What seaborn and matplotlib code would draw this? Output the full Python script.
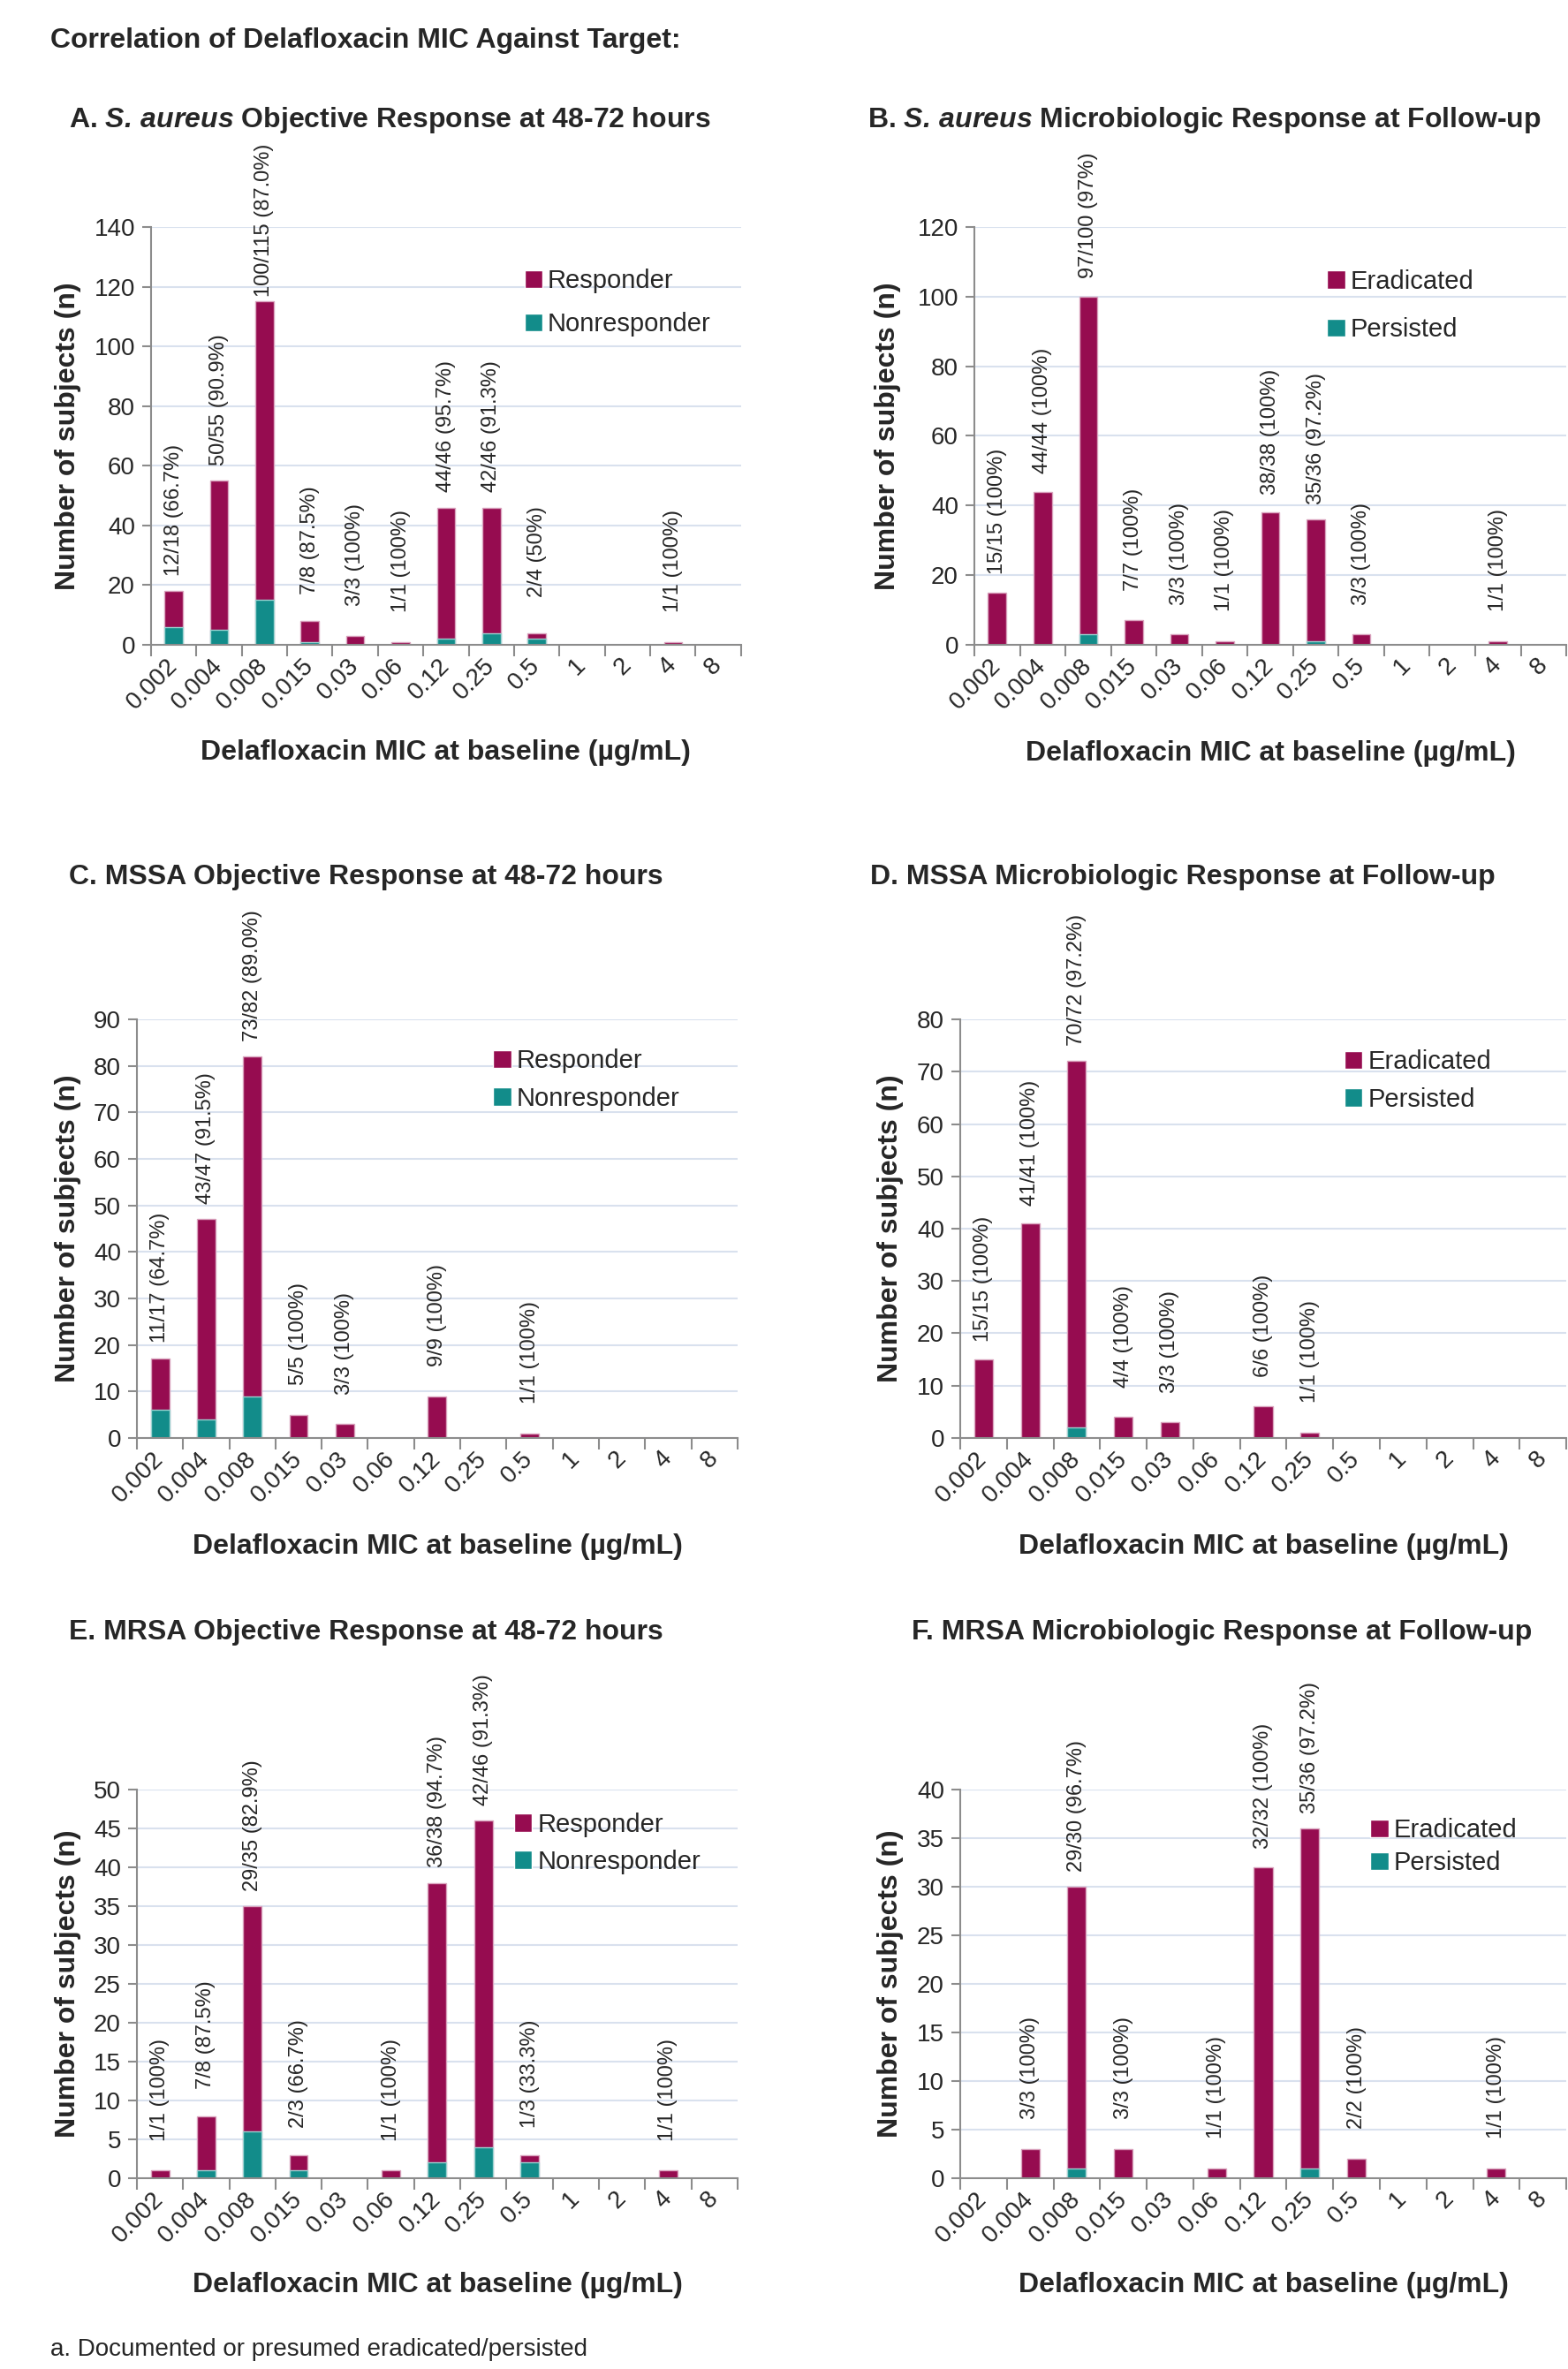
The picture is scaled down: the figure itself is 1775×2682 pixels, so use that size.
# ============================================
# Delafloxacin MIC vs response - 6 panel figure
# ============================================

import numpy as np
import pandas as pd
import matplotlib
matplotlib.use("Agg")
import matplotlib.pyplot as plt
from matplotlib.patches import Patch
import seaborn as sns

# ============================================
# Data
# ============================================

mic = ["0.002", "0.004", "0.008", "0.015", "0.03", "0.06", "0.12",
       "0.25", "0.5", "1", "2", "4", "8"]

# A. S. aureus objective response
a_resp = [12, 50, 100, 7, 3, 1, 44, 42, 2, 0, 0, 1, 0]
a_non = [6, 5, 15, 1, 0, 0, 2, 4, 2, 0, 0, 0, 0]
a_labels = ["12/18 (66.7%)", "50/55 (90.9%)", "100/115 (87.0%)", "7/8 (87.5%)",
            "3/3 (100%)", "1/1 (100%)", "44/46 (95.7%)", "42/46 (91.3%)",
            "2/4 (50%)", "", "", "1/1 (100%)", ""]

# B. S. aureus microbiologic response
b_erad = [15, 44, 97, 7, 3, 1, 38, 35, 3, 0, 0, 1, 0]
b_pers = [0, 0, 3, 0, 0, 0, 0, 1, 0, 0, 0, 0, 0]
b_labels = ["15/15 (100%)", "44/44 (100%)", "97/100 (97%)", "7/7 (100%)",
            "3/3 (100%)", "1/1 (100%)", "38/38 (100%)", "35/36 (97.2%)",
            "3/3 (100%)", "", "", "1/1 (100%)", ""]

# C. MSSA objective response
c_resp = [11, 43, 73, 5, 3, 0, 9, 0, 1, 0, 0, 0, 0]
c_non = [6, 4, 9, 0, 0, 0, 0, 0, 0, 0, 0, 0, 0]
c_labels = ["11/17 (64.7%)", "43/47 (91.5%)", "73/82 (89.0%)", "5/5 (100%)",
            "3/3 (100%)", "", "9/9 (100%)", "", "1/1 (100%)", "", "", "", ""]

# D. MSSA microbiologic response
d_erad = [15, 41, 70, 4, 3, 0, 6, 1, 0, 0, 0, 0, 0]
d_pers = [0, 0, 2, 0, 0, 0, 0, 0, 0, 0, 0, 0, 0]
d_labels = ["15/15 (100%)", "41/41 (100%)", "70/72 (97.2%)", "4/4 (100%)",
            "3/3 (100%)", "", "6/6 (100%)", "1/1 (100%)", "", "", "", "", ""]

# E. MRSA objective response
e_resp = [1, 7, 29, 2, 0, 1, 36, 42, 1, 0, 0, 1, 0]
e_non = [0, 1, 6, 1, 0, 0, 2, 4, 2, 0, 0, 0, 0]
e_labels = ["1/1 (100%)", "7/8 (87.5%)", "29/35 (82.9%)", "2/3 (66.7%)", "",
            "1/1 (100%)", "36/38 (94.7%)", "42/46 (91.3%)", "1/3 (33.3%)",
            "", "", "1/1 (100%)", ""]

# F. MRSA microbiologic response
f_erad = [0, 3, 29, 3, 0, 1, 32, 35, 2, 0, 0, 1, 0]
f_pers = [0, 0, 1, 0, 0, 0, 0, 1, 0, 0, 0, 0, 0]
f_labels = ["", "3/3 (100%)", "29/30 (96.7%)", "3/3 (100%)", "", "1/1 (100%)",
            "32/32 (100%)", "35/36 (97.2%)", "2/2 (100%)", "", "", "1/1 (100%)", ""]

# ============================================
# Style
# ============================================

sns.set_theme(style="white")
plt.rcParams["font.family"] = ["Liberation Sans", "DejaVu Sans"]
plt.rcParams["mathtext.fontset"] = "custom"
plt.rcParams["mathtext.rm"] = "Liberation Sans"
plt.rcParams["mathtext.bf"] = "Liberation Sans:bold"
plt.rcParams["mathtext.it"] = "Liberation Sans:italic"
plt.rcParams["mathtext.bfit"] = "Liberation Sans:italic:bold"

MAGENTA = "#960C50"
TEAL = "#128C8A"
GRID = "#D9E1EE"
AXIS = "#8C8C8C"
XLABEL = "Delafloxacin MIC at baseline (\u00b5g/mL)"
YLABEL = "Number of subjects (n)"

fig = plt.figure(figsize=(17.75, 26.82), dpi=100)


def draw_panel(rect, top, bottom, labels, names, ymax, ystep,
               leg_pos, leg_space, xlab_y, ylab_x):
    ax = fig.add_axes(rect)
    total = [t + b for t, b in zip(top, bottom)]
    df = pd.DataFrame({"mic": mic, "total": total, "bottom": bottom})

    # full bar in magenta, then the lower segment in teal on top of it
    sns.barplot(data=df, x="mic", y="total", order=mic, color=MAGENTA,
                saturation=1, width=0.4, edgecolor="#D9A3BD", linewidth=1,
                ax=ax)
    sns.barplot(data=df, x="mic", y="bottom", order=mic, color=TEAL,
                saturation=1, width=0.4, edgecolor="#9AD3D0", linewidth=1,
                ax=ax)

    for i, lab in enumerate(labels):
        if lab:
            ax.annotate(lab, (i, total[i]), xytext=(0, 66),
                        textcoords="offset points", rotation=90,
                        ha="center", va="center", fontsize=17)

    ax.set_ylim(0, ymax)
    ax.set_xlim(-0.5, len(mic) - 0.5)
    ax.set_yticks(np.arange(0, ymax + 0.1, ystep))
    ax.tick_params(axis="y", labelsize=20, length=7, width=1.5,
                   color=AXIS, left=True, pad=6)

    # category boundaries as ticks, labels centred on categories
    ax.set_xticks(np.arange(-0.5, len(mic), 1))
    ax.set_xticklabels([])
    ax.set_xticks(range(len(mic)), minor=True)
    ax.set_xticklabels(mic, minor=True, rotation=45, ha="right",
                       va="center", rotation_mode="anchor", fontsize=20)
    ax.tick_params(axis="x", which="major", length=9, width=1.5,
                   color=AXIS, bottom=True)
    ax.tick_params(axis="x", which="minor", length=0, pad=14)

    ax.yaxis.grid(True, color=GRID, linewidth=1.5)
    ax.set_axisbelow(True)
    for s in ["top", "right"]:
        ax.spines[s].set_visible(False)
    for s in ["left", "bottom"]:
        ax.spines[s].set_color(AXIS)
        ax.spines[s].set_linewidth(1.5)

    ax.set_xlabel(XLABEL, fontsize=23, fontweight="bold")
    ax.set_ylabel(YLABEL, fontsize=23, fontweight="bold")
    ax.xaxis.set_label_coords(0.5, xlab_y)
    ax.yaxis.set_label_coords(ylab_x, 0.5)

    handles = [Patch(facecolor=MAGENTA, label=names[0]),
               Patch(facecolor=TEAL, label=names[1])]
    ax.legend(handles=handles, loc="upper left", bbox_to_anchor=leg_pos,
              frameon=False, fontsize=21, handlelength=0.7, handleheight=0.7,
              handletextpad=0.2, labelspacing=leg_space, borderpad=0,
              borderaxespad=0)
    return ax


obj = ["Responder", "Nonresponder"]
mic_resp = ["Eradicated", "Persisted"]

draw_panel([0.0963, 0.7278, 0.3763, 0.1764], a_resp, a_non, a_labels, obj,
           140, 20, (0.633, 0.900), 0.72, -0.226, -0.118)
draw_panel([0.6214, 0.7278, 0.3775, 0.1764], b_erad, b_pers, b_labels, mic_resp,
           120, 20, (0.596, 0.899), 0.9, -0.228, -0.124)
draw_panel([0.0873, 0.3930, 0.3831, 0.1767], c_resp, c_non, c_labels, obj,
           90, 10, (0.593, 0.930), 0.5, -0.228, -0.092)
draw_panel([0.6124, 0.3930, 0.3865, 0.1767], d_erad, d_pers, d_labels, mic_resp,
           80, 10, (0.634, 0.928), 0.5, -0.228, -0.093)
draw_panel([0.0873, 0.0805, 0.3831, 0.1641], e_resp, e_non, e_labels, obj,
           50, 5, (0.628, 0.942), 0.48, -0.241, -0.092)
draw_panel([0.6124, 0.0805, 0.3865, 0.1641], f_erad, f_pers, f_labels, mic_resp,
           40, 5, (0.677, 0.927), 0.32, -0.241, -0.093)

# ============================================
# Titles and footnote
# ============================================

fig.text(0.032, 0.983, "Correlation of Delafloxacin MIC Against Target:",
         fontsize=23, fontweight="bold", va="center", ha="left")

titles = [
    (0.2485, 0.9493, r"A. $\mathbfit{S.\,aureus}$ Objective Response at 48-72 hours"),
    (0.7680, 0.9493, r"B. $\mathbfit{S.\,aureus}$ Microbiologic Response at Follow-up"),
    (0.2332, 0.6298, "C. MSSA Objective Response at 48-72 hours"),
    (0.7544, 0.6298, "D. MSSA Microbiologic Response at Follow-up"),
    (0.2332, 0.3110, "E. MRSA Objective Response at 48-72 hours"),
    (0.7792, 0.3110, "F. MRSA Microbiologic Response at Follow-up"),
]
for x, y, t in titles:
    fig.text(x, y, t, fontsize=23, fontweight="bold", ha="center", va="center")

fig.text(0.032, 0.0055, "a. Documented or presumed eradicated/persisted",
         fontsize=20, ha="left", va="baseline")

plt.savefig("out.png", dpi=100)
